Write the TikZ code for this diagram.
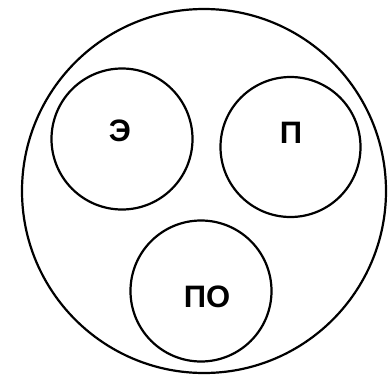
\documentclass[tikz,border=0pt]{standalone}
\usepackage{fontspec}
\setmainfont{Liberation Sans}
\newcommand{\lblfont}{\fontsize{31pt}{35pt}\selectfont\bfseries}
\begin{document}
\begin{tikzpicture}[x=1pt,y=-1pt,
  ring/.style={draw=black,line width=2.2pt},
  lbl/.style={font=\lblfont,inner sep=0pt}]
\useasboundingbox (0,0) rectangle (391,381);
\draw[ring] (204,191) circle (182);
\draw[ring] (122,139) circle (70.5);
\draw[ring] (290.5,147) circle (70);
\draw[ring] (201,291) circle (70.5);
\node[lbl] (e) at (120,131) {Э};
\node[lbl] (p) at (291,133) {П};
\node[lbl] (po) at (207,297) {ПО};
\end{tikzpicture}
\end{document}
